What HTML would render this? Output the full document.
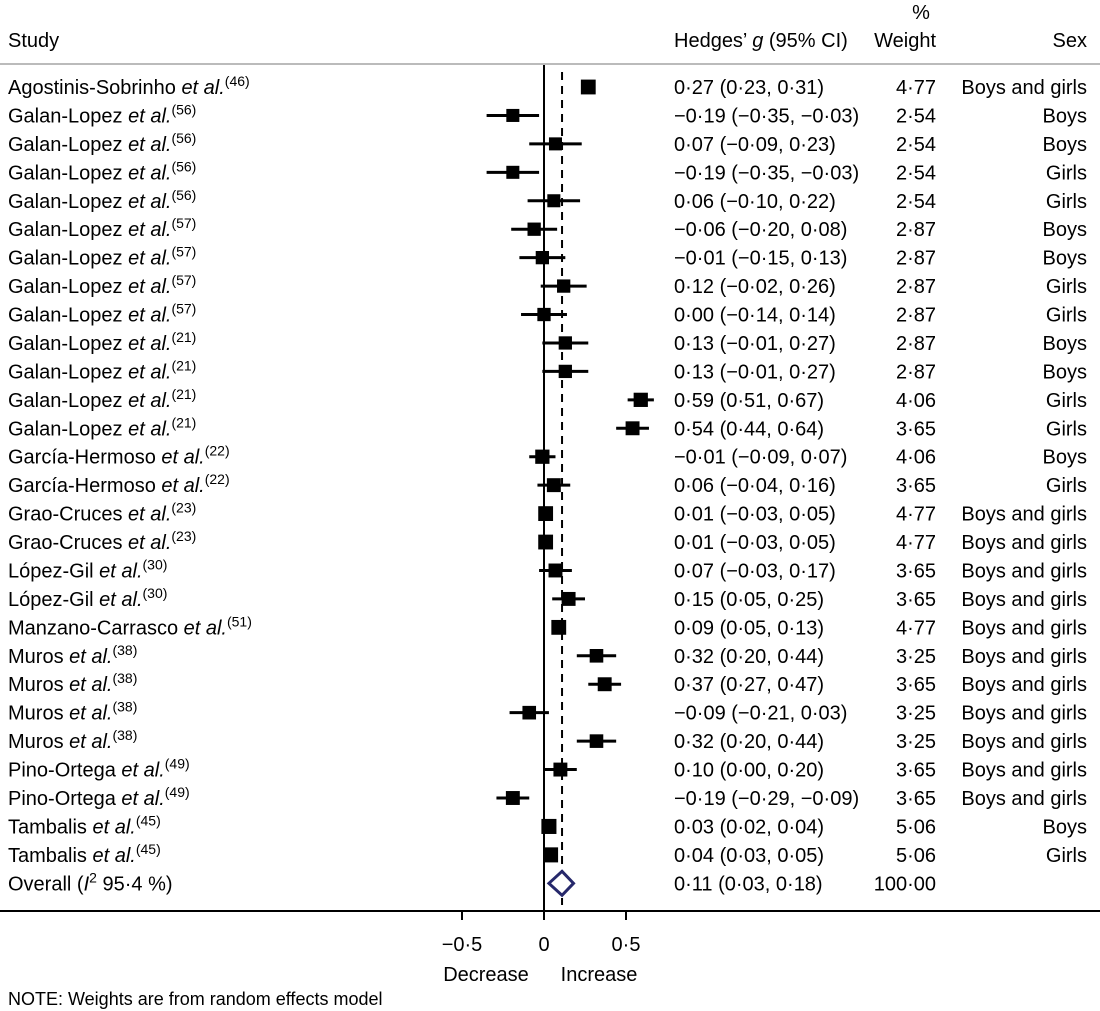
<!DOCTYPE html>
<html><head><meta charset="utf-8"><style>
html,body{margin:0;padding:0;background:#fff}
svg{display:block}
text{font-family:"Liberation Sans",Arial,sans-serif;font-size:20px;fill:#000}
</style></head><body>
<svg id="chart" width="1100" height="1011" viewBox="0 0 1100 1011" xmlns="http://www.w3.org/2000/svg"></svg>
<script>
const studies=["Agostinis-Sobrinho","Galan-Lopez","Galan-Lopez","Galan-Lopez","Galan-Lopez","Galan-Lopez","Galan-Lopez","Galan-Lopez","Galan-Lopez","Galan-Lopez","Galan-Lopez","Galan-Lopez","Galan-Lopez","García-Hermoso","García-Hermoso","Grao-Cruces","Grao-Cruces","López-Gil","López-Gil","Manzano-Carrasco","Muros","Muros","Muros","Muros","Pino-Ortega","Pino-Ortega","Tambalis","Tambalis"];
const refs=["46","56","56","56","56","57","57","57","57","21","21","21","21","22","22","23","23","30","30","51","38","38","38","38","49","49","45","45"];
const est=[0.27,-0.19,0.07,-0.19,0.06,-0.06,-0.01,0.12,0.00,0.13,0.13,0.59,0.54,-0.01,0.06,0.01,0.01,0.07,0.15,0.09,0.32,0.37,-0.09,0.32,0.10,-0.19,0.03,0.04];
const lo=[0.23,-0.35,-0.09,-0.35,-0.10,-0.20,-0.15,-0.02,-0.14,-0.01,-0.01,0.51,0.44,-0.09,-0.04,-0.03,-0.03,-0.03,0.05,0.05,0.20,0.27,-0.21,0.20,0.00,-0.29,0.02,0.03];
const hi=[0.31,-0.03,0.23,-0.03,0.22,0.08,0.13,0.26,0.14,0.27,0.27,0.67,0.64,0.07,0.16,0.05,0.05,0.17,0.25,0.13,0.44,0.47,0.03,0.44,0.20,-0.09,0.04,0.05];
const weights=[4.77,2.54,2.54,2.54,2.54,2.87,2.87,2.87,2.87,2.87,2.87,4.06,3.65,4.06,3.65,4.77,4.77,3.65,3.65,4.77,3.25,3.65,3.25,3.25,3.65,3.65,5.06,5.06];
const sexes=["Boys and girls","Boys","Boys","Girls","Girls","Boys","Boys","Girls","Girls","Boys","Boys","Girls","Girls","Boys","Girls","Boys and girls","Boys and girls","Boys and girls","Boys and girls","Boys and girls","Boys and girls","Boys and girls","Boys and girls","Boys and girls","Boys and girls","Boys and girls","Boys","Girls"];
const overall=[0.11,0.03,0.18];
const xTicks=[-0.5,0,0.5];
const xTickLabels=["−0·5","0","0·5"];

const svg=document.getElementById('chart');
const NS='http://www.w3.org/2000/svg';
const X=v=>544+v*164;
const Y=i=>87+i*28.44;
const fmt=v=>(v<0?'−':'')+Math.abs(v).toFixed(2).replace('.','·');
function mk(tag,attrs,parent){const e=document.createElementNS(NS,tag);for(const k in attrs)e.setAttribute(k,attrs[k]);(parent||svg).appendChild(e);return e;}
function txt(x,y,s,anchor){const t=mk('text',{x:x,y:y,'text-anchor':anchor||'start'});t.textContent=s;return t;}

let t;
t=txt(8,47,'Study');


t=mk('text',{x:674,y:47});
t.innerHTML='Hedges’ <tspan font-style="italic">g</tspan> (95% CI)';


t=txt(921,19,'%','middle');


t=txt(936,47,'Weight','end');


t=txt(1087,47,'Sex','end');


let l=mk('line',{x1:0,x2:1100,y1:64,y2:64,stroke:'#bbb','stroke-width':2});



l=mk('line',{x1:X(0),x2:X(0),y1:65,y2:911,stroke:'#000','stroke-width':2});


l=mk('line',{x1:X(overall[0]),x2:X(overall[0]),y1:72,y2:905,stroke:'#000','stroke-width':2,'stroke-dasharray':'8,6'});



for(let i=0;i<studies.length;i++){
  const y=Y(i);
  const g=mk('g',{});
  
  
  const s=mk('text',{x:8,y:y+7},g);
  s.innerHTML=studies[i]+' <tspan font-style="italic">et al.</tspan><tspan font-size="14" dy="-8">('+refs[i]+')</tspan>';
  mk('line',{x1:X(lo[i]),x2:X(hi[i]),y1:y,y2:y,stroke:'#000','stroke-width':3},g);
  const sz=11+weights[i]*0.8;
  const r=mk('rect',{x:X(est[i])-sz/2,y:y-sz/2,width:sz,height:sz,fill:'#000'},g);
  
  
  const c=mk('text',{x:674,y:y+7},g); c.textContent=fmt(est[i])+' ('+fmt(lo[i])+', '+fmt(hi[i])+')';
  const w=mk('text',{x:936,y:y+7,'text-anchor':'end'},g); w.textContent=weights[i].toFixed(2).replace('.','·');
  const sx=mk('text',{x:1087,y:y+7,'text-anchor':'end'},g); sx.textContent=sexes[i];
}
const oy=Y(studies.length);
t=mk('text',{x:8,y:oy+7});
t.innerHTML='Overall (<tspan font-style="italic">I</tspan><tspan font-size="14" dy="-8">2</tspan><tspan dy="8"> 95·4 %)</tspan>';


const d=mk('polygon',{points:`${X(overall[1])},${oy} ${X(overall[0])},${oy-12} ${X(overall[2])},${oy} ${X(overall[0])},${oy+12}`,fill:'#fff',stroke:'#26286b','stroke-width':3});


t=txt(674,oy+7,fmt(overall[0])+' ('+fmt(overall[1])+', '+fmt(overall[2])+')');


t=txt(936,oy+7,'100·00','end');



l=mk('line',{x1:0,x2:1100,y1:911,y2:911,stroke:'#000','stroke-width':2});


xTicks.forEach((v,i)=>{
  const tk=mk('line',{x1:X(v),x2:X(v),y1:911,y2:920,stroke:'#000','stroke-width':2});
  
  
  const tl=txt(X(v),951,xTickLabels[i],'middle');
  
  
});
t=txt(486,981,'Decrease','middle');


t=txt(599,981,'Increase','middle');


t=mk('text',{x:8,y:1005,style:'font-size:18px'});
t.textContent='NOTE: Weights are from random effects model';


</script>
</body></html>
